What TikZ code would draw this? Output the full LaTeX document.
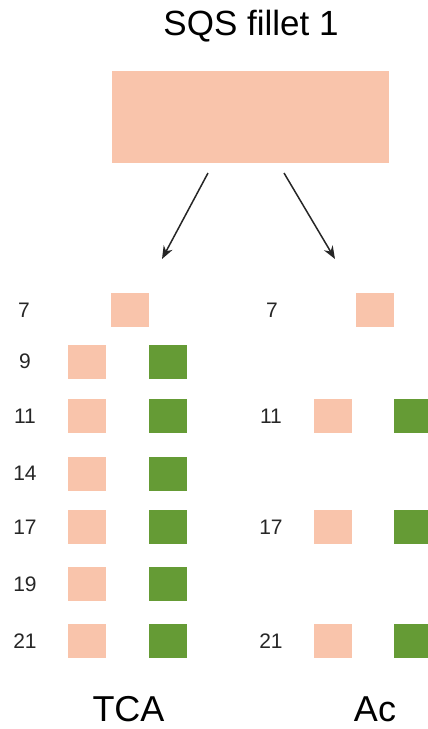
\documentclass[tikz,border=0pt]{standalone}
\usepackage{fontspec}
\setmainfont{Liberation Sans}
\usetikzlibrary{arrows.meta}
\definecolor{salmon}{RGB}{249,196,171}
\definecolor{leaf}{RGB}{101,155,53}
\begin{document}
\begin{tikzpicture}[x=1pt,y=-1pt,
  sq/.style={minimum width=38pt,minimum height=34pt,inner sep=0pt,draw=none},
  pinkbox/.style={sq,fill=salmon},
  greenbox/.style={sq,fill=leaf},
  rowlabel/.style={font=\fontsize{21}{24}\selectfont,inner sep=0pt,text=black!85},
  caption/.style={font=\fontsize{36}{40}\selectfont,inner sep=0pt,anchor=base},
  arr/.style={-{Stealth[length=13pt,width=10pt]},line width=1.5pt,black!85}]
\useasboundingbox (0,0) rectangle (428,729);
\clip (0,0) rectangle (428,729);
% title and main box
\node[caption,font=\fontsize{35}{40}\selectfont] (title) at (251,35) {SQS fillet 1};
\node[fill=salmon,minimum width=277pt,minimum height=92pt,inner sep=0pt] (main) at (250.5,117) {};
\coordinate (l0) at (208,173);
\coordinate (l1) at (162,259);
\coordinate (r0) at (284,173);
\coordinate (r1) at (335,259);
\draw[arr] (l0) -- (l1);
\draw[arr] (r0) -- (r1);
% left column (TCA)
\node[rowlabel] (L7) at (24,310) {7};
\node[pinkbox] (L7p) at (129.5,309.5) {};
\foreach \lab/\yy in {9/361.5,11/416,14/473.5,17/527,19/584,21/641}{
  \node[rowlabel] (L\lab) at (25,\yy) {\lab};
  \node[pinkbox] (L\lab p) at (87,\yy) {};
  \node[greenbox] (L\lab g) at (168,\yy) {};
}
% right column (Ac)
\node[rowlabel] (R7) at (272,310) {7};
\node[pinkbox] (R7p) at (374.5,309.5) {};
\foreach \lab/\yy in {11/416,17/527,21/641}{
  \node[rowlabel] (R\lab) at (271,\yy) {\lab};
  \node[pinkbox] (R\lab p) at (332.5,\yy) {};
  \node[greenbox] (R\lab g) at (413,\yy) {};
}
\node[caption] (tca) at (128.5,721) {TCA};
\node[caption] (ac) at (375,721) {Ac};
\end{tikzpicture}
\end{document}
